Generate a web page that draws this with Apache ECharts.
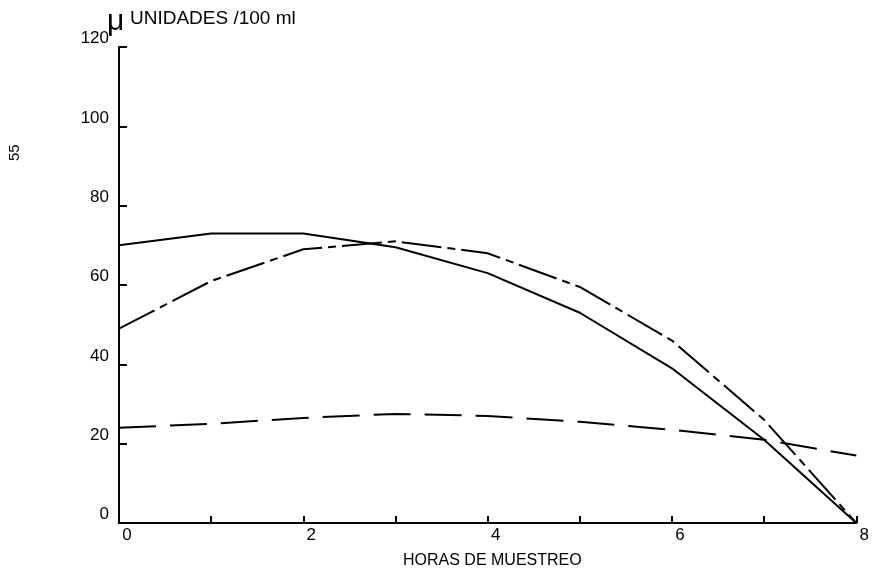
<!DOCTYPE html>
<html>
<head>
<meta charset="utf-8">
<script src="https://cdn.jsdelivr.net/npm/echarts@6/dist/echarts.min.js"></script>
<style>
html,body{margin:0;padding:0;background:#fff;}
#c{width:872px;height:573px;}
</style>
</head>
<body>
<div id="c"></div>
<script>
var hours = [0, 1, 2, 3, 4, 5, 6, 7, 8];
var solidVals = [70, 73, 73, 69.5, 63, 53, 39, 21, 0];
var dashDotVals = [49, 61, 69, 71, 68, 59.5, 46, 26, 0];
var dashedVals = [24, 25, 26.5, 27.5, 27, 25.5, 23.5, 21, 17];
var yTicks = [0, 20, 40, 60, 80, 100, 120];
var xLabelsShown = [0, 2, 4, 6, 8];
var yTitle = "UNIDADES /100 ml";
var xTitle = "HORAS DE MUESTREO";
var pageNo = "55";

function pairs(v){ return hours.map(function(h,i){ return [h, v[i]]; }); }

var chart = echarts.init(document.getElementById('c'));
var font = 'Liberation Sans, Arial, sans-serif';
chart.setOption({
  backgroundColor: '#ffffff',
  animation: false,
  grid: {left: 119, right: 12, top: 47, bottom: 50, containLabel: false},
  xAxis: {
    type: 'value', min: 0, max: 8, interval: 1,
    axisLine: {lineStyle: {color: '#000', width: 2}},
    axisTick: {inside: true, length: 7, lineStyle: {color: '#000', width: 2}},
    splitLine: {show: false},
    axisLabel: {
      color: '#000', fontFamily: font, fontSize: 17, margin: 4,
      padding: [0, 0, 0, 16],
      formatter: function(v){ return xLabelsShown.indexOf(v) >= 0 ? String(v) : ''; }
    }
  },
  yAxis: {
    type: 'value', min: 0, max: 120, interval: 20,
    axisLine: {show: true, lineStyle: {color: '#000', width: 2}},
    axisTick: {show: true, inside: true, length: 8, lineStyle: {color: '#000', width: 2}},
    splitLine: {show: false},
    axisLabel: {
      color: '#000', fontFamily: font, fontSize: 17, margin: 10,
      verticalAlign: 'bottom', lineHeight: 17,
      formatter: function(v){ return yTicks.indexOf(v) >= 0 ? String(v) : ''; }
    }
  },
  series: [
    {type: 'line', data: pairs(solidVals), showSymbol: false,
     lineStyle: {color: '#000', width: 2, type: 'solid'}},
    {type: 'line', data: pairs(dashDotVals), showSymbol: false,
     lineStyle: {color: '#000', width: 2, type: [40, 6, 8, 6]}},
    {type: 'line', data: pairs(dashedVals), showSymbol: false,
     lineStyle: {color: '#000', width: 2, type: [37, 14]}}
  ],
  graphic: [
    {type: 'text', left: 107, top: 7, style: {text: 'μ', font: '30px ' + font, fill: '#000'}},
    {type: 'text', left: 130, top: 9, style: {text: yTitle, font: '19px ' + font, fill: '#000'}},
    {type: 'text', left: 403, top: 553, style: {text: xTitle, font: '16px ' + font, fill: '#000'}},
    {type: 'text', x: 7, y: 161, rotation: Math.PI / 2, style: {text: pageNo, font: '15px ' + font, fill: '#000'}}
  ]
});
</script>
</body>
</html>
